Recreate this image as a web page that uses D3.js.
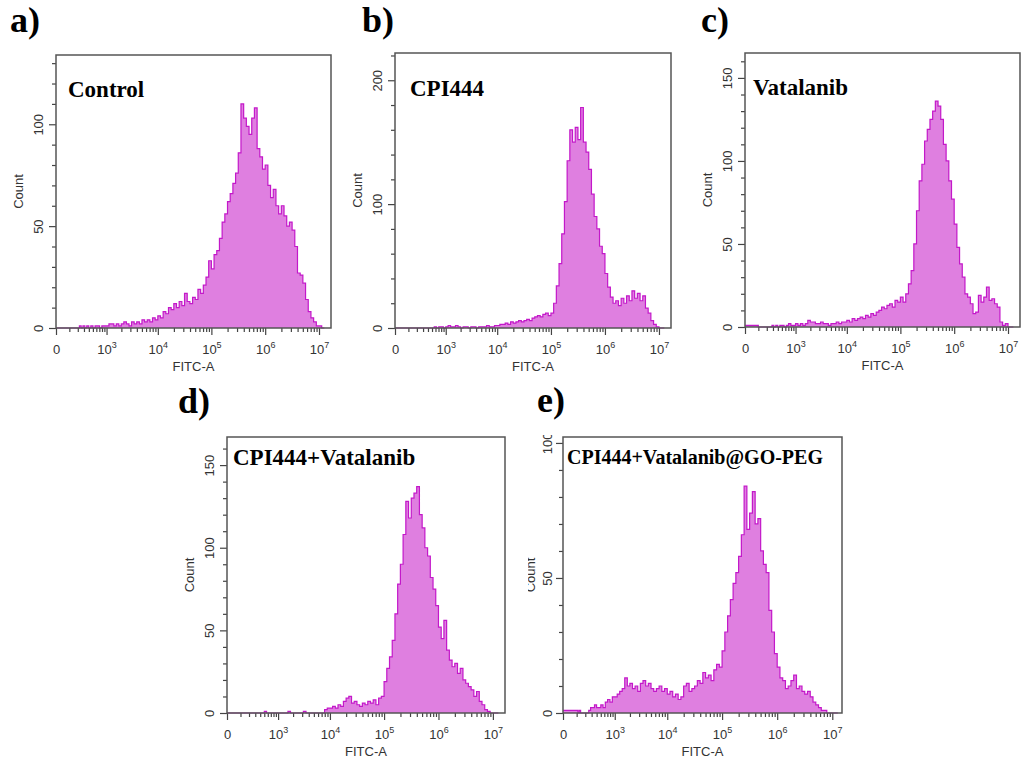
<!DOCTYPE html>
<html>
<head>
<meta charset="utf-8">
<script src="https://cdn.jsdelivr.net/npm/d3@7"></script>
<style>
  body { margin: 0; background: #fff; }
  .tick text { font-family: "Liberation Sans", Arial, sans-serif; font-size: 13px; fill: #333; }
  .tick line { stroke: #444; stroke-width: 1.2; }
</style>
</head>
<body>
<script>
// histogram channels: bin 0 is [0, 100], then log10 bins of width 0.05 starting at 10^2
var logStart = 2.0, logStep = 0.05;

// counts per bin (first value = bin [0,100], then 10 bins per row from 10^2.0)
var controlCounts = [0,
  0,0,0,0,0,0,0,1,0,1,
  0,1,0,1,0,1,1,0,1,1,
  1,2,2,1,2,1,2,3,2,1,
  3,2,3,2,4,3,4,3,5,4,
  6,5,8,7,10,9,12,10,13,11,
  17,13,12,15,14,19,17,21,25,33,
  29,36,38,44,52,56,62,66,71,76,
  86,110,103,99,95,103,108,88,84,78,
  80,70,64,68,60,56,60,55,50,52,
  48,40,27,26,22,14,8,5,3,1,
  1,0];

var cpiCounts = [0,
  0,0,0,0,0,0,0,0,0,0,
  0,0,0,0,0,1,0,1,1,0,
  1,2,1,1,2,1,0,1,1,0,
  1,1,0,1,1,1,2,1,1,2,
  2,3,3,4,3,5,4,5,6,5,
  6,7,6,8,9,10,9,11,12,10,
  12,20,34,52,76,102,135,160,150,162,
  152,178,150,142,128,108,90,80,66,60,
  44,33,25,20,22,18,24,20,26,22,
  30,24,28,22,26,16,12,6,3,1,
  0,0];

var vatalanibCounts = [1,
  0,0,0,0,0,0,0,0,0,1,
  0,1,0,1,1,0,1,2,1,1,
  2,1,2,1,2,4,3,3,2,2,
  3,2,2,1,2,2,3,2,3,3,
  4,3,5,4,5,6,5,7,6,8,
  7,9,10,12,11,13,14,12,16,15,
  18,15,20,26,34,50,70,88,98,112,
  119,125,130,136,133,125,110,100,88,77,
  62,48,38,30,20,18,14,8,9,19,
  15,18,24,16,17,14,12,3,1,2,
  0,0];

var comboCounts = [0,
  0,0,0,0,0,0,0,0,0,0,
  0,0,0,0,1,0,0,0,0,0,
  0,0,0,0,1,0,0,0,0,0,
  1,0,0,0,0,0,0,0,2,3,
  3,4,3,5,4,7,9,10,6,7,
  5,4,6,5,7,6,8,5,9,10,
  19,27,34,44,60,78,90,108,128,118,
  130,133,137,120,112,100,95,82,75,65,
  52,45,56,38,32,28,30,24,27,20,
  18,16,14,10,13,7,5,2,1,0,
  0,0];

var goPegCounts = [1,
  1,0,1,0,0,0,0,0,1,2,
  2,3,2,2,3,2,4,5,4,6,
  6,7,8,9,13,10,11,9,10,8,
  11,12,10,11,9,8,9,10,8,9,
  7,8,6,7,5,6,10,11,8,9,
  10,12,11,15,13,14,12,16,18,17,
  23,30,36,42,48,52,58,66,84,68,
  74,82,70,72,60,55,52,38,30,22,
  17,13,12,9,10,12,14,9,10,8,
  7,8,6,4,3,2,1,1,0,0,
  0,0];

var xMajorTicks = [0, 1e3, 1e4, 1e5, 1e6, 1e7];

var panels = [
  {letter: "a)", title: "Control", counts: controlCounts, yMax: 134, yMajor: [0, 50, 100], yStep: 10,
   left: 56, top: 55, right: 331, bottom: 328, xMax: 1.67e7, lx: 10, ly: 32, tx: 68, ty: 97, tsize: 23},
  {letter: "b)", title: "CPI444", counts: cpiCounts, yMax: 222, yMajor: [0, 100, 200], yStep: 20,
   left: 395, top: 53, right: 671, bottom: 328, xMax: 1.67e7, lx: 362, ly: 32, tx: 410, ty: 96, tsize: 23},
  {letter: "c)", title: "Vatalanib", counts: vatalanibCounts, yMax: 165, yMajor: [0, 50, 100, 150], yStep: 10,
   left: 745, top: 53, right: 1020, bottom: 327, xMax: 1.67e7, lx: 701, ly: 32, tx: 753, ty: 95, tsize: 23},
  {letter: "d)", title: "CPI444+Vatalanib", counts: comboCounts, yMax: 167, yMajor: [0, 50, 100, 150], yStep: 10,
   left: 227, top: 437, right: 505, bottom: 713, xMax: 1.67e7, lx: 178, ly: 413, tx: 233, ty: 465, tsize: 23},
  {letter: "e)", title: "CPI444+Vatalanib@GO-PEG", counts: goPegCounts, yMax: 102.2, yMajor: [0, 50, 100], yStep: 10,
   left: 563, top: 437, right: 842, bottom: 713, xMax: 1.5e7, lx: 537, ly: 412, tx: 567, ty: 464, tsize: 20,
   clip: {x: 528, y: 435}}
];

function edge(i) {
  return i === 0 ? 0 : Math.pow(10, logStart + logStep * (i - 1));
}

var xMinorTicks = [];
for (var m = 1; m <= 9; m++) xMinorTicks.push(m * 100);
for (var k = 3; k <= 6; k++) {
  for (var m2 = 2; m2 <= 9; m2++) xMinorTicks.push(m2 * Math.pow(10, k));
}

var svg = d3.select("body").append("svg")
    .attr("width", 1022)
    .attr("height", 765);

panels.forEach(function(p, pi) {
  var g = svg.append("g");

  var x = d3.scaleSymlog().constant(130)
      .domain([0, p.xMax])
      .range([p.left, p.right]);
  var y = d3.scaleLinear()
      .domain([0, p.yMax])
      .range([p.bottom, p.top]);

  // histogram as steps
  var pts = p.counts.map(function(c, i) { return [edge(i), c]; });
  pts.push([edge(p.counts.length), p.counts[p.counts.length - 1]]);

  var area = d3.area()
      .curve(d3.curveStepAfter)
      .x(function(d) { return x(d[0]); })
      .y0(y(0))
      .y1(function(d) { return y(d[1]); });
  var line = d3.line()
      .curve(d3.curveStepAfter)
      .x(function(d) { return x(d[0]); })
      .y(function(d) { return y(d[1]); });

  g.append("path").datum(pts)
      .attr("d", area)
      .attr("fill", "#df7fe0");
  g.append("path").datum(pts)
      .attr("d", line)
      .attr("fill", "none")
      .attr("stroke", "#c318c9")
      .attr("stroke-width", 1.2);

  // y axis (labels rotated like the cytometer output)
  var yAxisG = g.append("g");
  if (p.clip) {
    svg.append("clipPath").attr("id", "clip" + pi)
      .append("rect").attr("x", p.clip.x).attr("y", p.clip.y).attr("width", 600).attr("height", 600);
    yAxisG.attr("clip-path", "url(#clip" + pi + ")");
  }
  var yAx = yAxisG.append("g").attr("transform", "translate(" + p.left + ",0)");
  var yMinor = d3.range(0, p.yMax, p.yStep).filter(function(v) { return p.yMajor.indexOf(v) < 0; });
  yAx.append("g")
      .call(d3.axisLeft(y).tickValues(yMinor).tickSize(4).tickFormat(""))
      .call(function(s) { s.select(".domain").remove(); });
  var lblGap = p.clip ? 11 : 13;
  yAx.append("g")
      .call(d3.axisLeft(y).tickValues(p.yMajor).tickSize(7).tickFormat(d3.format("d")))
      .call(function(s) { s.select(".domain").remove(); })
      .selectAll("text")
        .attr("x", null).attr("dy", null)
        .attr("text-anchor", "middle")
        .attr("transform", "translate(" + (-lblGap) + ",0) rotate(-90)");

  yAxisG.append("text")
      .attr("transform", "translate(" + (p.left - (p.clip ? 28 : 33)) + "," + ((p.top + p.bottom) / 2) + ") rotate(-90)")
      .attr("text-anchor", "middle")
      .style("font-family", "Liberation Sans, Arial, sans-serif")
      .style("font-size", "13px")
      .style("fill", "#333")
      .text("Count");

  // x axis
  var xAx = g.append("g").attr("transform", "translate(0," + p.bottom + ")");
  xAx.append("g")
      .call(d3.axisBottom(x).tickValues(xMinorTicks).tickSize(4).tickFormat(""))
      .call(function(s) { s.select(".domain").remove(); });
  xAx.append("g")
      .call(d3.axisBottom(x).tickValues(xMajorTicks).tickSize(7).tickFormat(""))
      .call(function(s) { s.select(".domain").remove(); })
      .selectAll("text")
        .attr("y", 26).attr("dy", null)
        .each(function(d) {
          var t = d3.select(this);
          if (d === 0) { t.text("0"); return; }
          t.append("tspan").text("10");
          t.append("tspan").attr("dy", -6).style("font-size", "9px")
            .text(String(Math.round(Math.log10(d))));
        });

  g.append("text")
      .attr("x", (p.left + p.right) / 2)
      .attr("y", p.bottom + 43)
      .attr("text-anchor", "middle")
      .style("font-family", "Liberation Sans, Arial, sans-serif")
      .style("font-size", "13px")
      .style("fill", "#333")
      .text("FITC-A");

  // frame
  g.append("rect")
      .attr("x", p.left).attr("y", p.top)
      .attr("width", p.right - p.left).attr("height", p.bottom - p.top)
      .attr("fill", "none")
      .attr("stroke", "#555")
      .attr("stroke-width", 1.5);

  // sample name and panel letter
  g.append("text")
      .attr("x", p.tx).attr("y", p.ty)
      .style("font-family", "Liberation Serif, Times New Roman, serif")
      .style("font-weight", "bold")
      .style("font-size", p.tsize + "px")
      .text(p.title);
  g.append("text")
      .attr("x", p.lx).attr("y", p.ly)
      .style("font-family", "Liberation Serif, Times New Roman, serif")
      .style("font-weight", "bold")
      .style("font-size", "36px")
      .text(p.letter);
});
</script>
</body>
</html>
